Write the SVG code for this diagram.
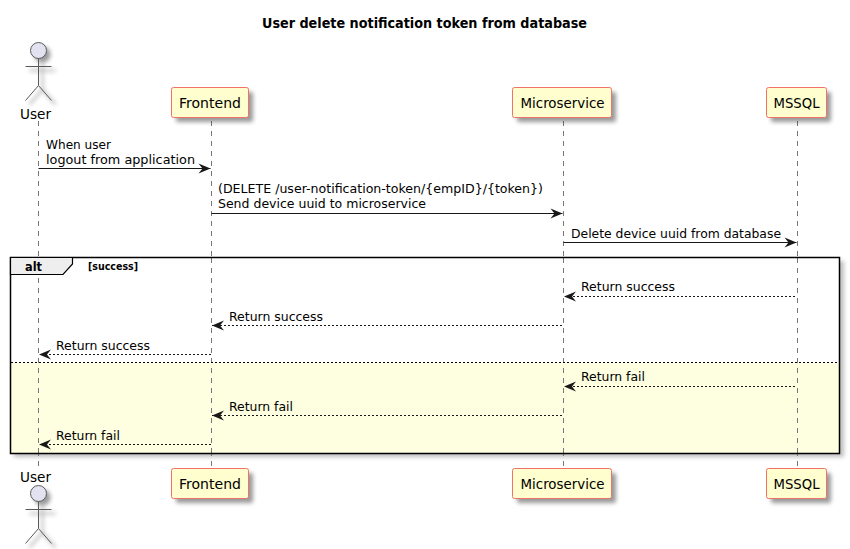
<svg xmlns="http://www.w3.org/2000/svg" width="850" height="549" viewBox="0 0 850 549">
<defs>
<filter id="sh" x="-30%" y="-30%" width="170%" height="170%"><feGaussianBlur stdDeviation="2"/></filter>
<marker id="ah" markerUnits="userSpaceOnUse" markerWidth="14" markerHeight="12" refX="13" refY="6" orient="auto-start-reverse"><path d="M1,1 L13,6 L1,11 L5,6 Z" fill="#181818"/></marker>
<g id="actor">
<g class="shadow" filter="url(#sh)" transform="translate(4,4)"><circle cx="0" cy="-8" r="8"/><path d="M0,0V27M-13,8H13M0,27L-13,42M0,27L13,42" fill="none" stroke="#000" stroke-opacity=".3" stroke-width="2"/></g>
<circle cx="0" cy="-8" r="8" fill="#e2e2f0" stroke="#5a5a5a"/>
<path d="M0,0V27M-13,8H13M0,27L-13,42M0,27L13,42" fill="none" stroke="#5a5a5a"/>
</g>
</defs>
<style>
text{font-family:"DejaVu Sans","Liberation Sans",sans-serif;fill:#000}
.m{font-size:12.5px}
.p{font-size:14px}
.box{fill:#fefece;stroke:#f0706c;stroke-width:1}
.shadow{fill:#000;fill-opacity:.4}
.life{stroke:#777;stroke-width:1;stroke-dasharray:5 5;fill:none}
.solid{stroke:#181818;stroke-width:1;fill:none;marker-end:url(#ah)}
.dash{stroke:#181818;stroke-width:1;stroke-dasharray:2 2;fill:none;marker-end:url(#ah)}
</style>
<rect width="850" height="549" fill="#fff"/>
<text id="title" x="424.5" y="28" text-anchor="middle" font-size="13.5" font-weight="700" textLength="325" lengthAdjust="spacingAndGlyphs">User delete notification token from database</text>

<g id="alt-shadow"><rect x="14" y="261" width="830" height="196" fill="#000" fill-opacity=".25" filter="url(#sh)"/></g>
<g id="lifelines">
<path class="life" d="M38.5,121V468M211.5,121V468M563.5,121V468M797.5,121V468"/>
</g>
<g id="alt">
<rect x="10.5" y="257.5" width="829" height="196" fill="#fff" stroke="none"/>
<rect x="11" y="363" width="828" height="90" fill="#fefee0"/>
<path class="life" d="M38.5,258V453M211.5,258V453M563.5,258V453M797.5,258V453"/>
<rect x="10.5" y="257.5" width="829" height="196" fill="none" stroke="#000" stroke-width="1.5"/>
<path d="M10.5,257.5H72.5V264L63,274.5H10.5Z" fill="#eee" stroke="#000" stroke-width="1.2"/>
<text x="25" y="271" font-size="12.5" font-weight="700" textLength="17" lengthAdjust="spacingAndGlyphs">alt</text>
<text x="88" y="270" font-size="10" font-weight="700" textLength="50" lengthAdjust="spacingAndGlyphs">[success]</text>
<line x1="11" y1="362.5" x2="839" y2="362.5" stroke="#000" stroke-width="1" stroke-dasharray="2 2"/>
</g>

<g id="connectors">
<line class="solid" x1="38.5" y1="168.5" x2="210.5" y2="168.5"/>
<line class="solid" x1="211.5" y1="213.5" x2="562.5" y2="213.5"/>
<line class="solid" x1="563.5" y1="242.5" x2="796.5" y2="242.5"/>
<line class="dash" x1="795" y1="296.5" x2="564" y2="296.5"/>
<line class="dash" x1="562" y1="325.5" x2="212" y2="325.5"/>
<line class="dash" x1="211" y1="354.5" x2="39" y2="354.5"/>
<line class="dash" x1="795" y1="386.5" x2="564" y2="386.5"/>
<line class="dash" x1="562" y1="415.5" x2="212" y2="415.5"/>
<line class="dash" x1="211" y1="444.5" x2="39" y2="444.5"/>
</g>
<g id="labels">
<text class="m" x="46" y="149" textLength="65" lengthAdjust="spacingAndGlyphs">When user</text>
<text class="m" x="46" y="164" textLength="149" lengthAdjust="spacingAndGlyphs">logout from application</text>
<text class="m" x="218" y="193" textLength="325" lengthAdjust="spacingAndGlyphs">(DELETE /user-notification-token/{empID}/{token})</text>
<text class="m" x="218" y="208" textLength="208" lengthAdjust="spacingAndGlyphs">Send device uuid to microservice</text>
<text class="m" x="571" y="238" textLength="210" lengthAdjust="spacingAndGlyphs">Delete device uuid from database</text>
<text class="m" x="581" y="291" textLength="94" lengthAdjust="spacingAndGlyphs">Return success</text>
<text class="m" x="229" y="321" textLength="94" lengthAdjust="spacingAndGlyphs">Return success</text>
<text class="m" x="56" y="350" textLength="94" lengthAdjust="spacingAndGlyphs">Return success</text>
<text class="m" x="581" y="381" textLength="64" lengthAdjust="spacingAndGlyphs">Return fail</text>
<text class="m" x="229" y="411" textLength="64" lengthAdjust="spacingAndGlyphs">Return fail</text>
<text class="m" x="56" y="440" textLength="64" lengthAdjust="spacingAndGlyphs">Return fail</text>
</g>

<g id="user-top"><use href="#actor" x="38.5" y="58.5"/><text class="p" x="20" y="119" textLength="31" lengthAdjust="spacingAndGlyphs">User</text></g>
<g id="frontend-top"><rect class="shadow" x="176" y="92" width="77" height="30" rx="2" filter="url(#sh)"/><rect class="box" x="171.5" y="87.5" width="77" height="30" rx="2"/><text class="p" x="179" y="108" textLength="62" lengthAdjust="spacingAndGlyphs">Frontend</text></g>
<g id="microservice-top"><rect class="shadow" x="517" y="92" width="99" height="30" rx="2" filter="url(#sh)"/><rect class="box" x="512.5" y="87.5" width="99" height="30" rx="2"/><text class="p" x="520.5" y="108" textLength="84" lengthAdjust="spacingAndGlyphs">Microservice</text></g>
<g id="mssql-top"><rect class="shadow" x="771" y="92" width="60" height="30" rx="2" filter="url(#sh)"/><rect class="box" x="766.5" y="87.5" width="60" height="30" rx="2"/><text class="p" x="773.5" y="108" textLength="46" lengthAdjust="spacingAndGlyphs">MSSQL</text></g>

<g id="user-bottom"><text class="p" x="20" y="482" textLength="31" lengthAdjust="spacingAndGlyphs">User</text><use href="#actor" x="38.5" y="501.5"/></g>
<g id="frontend-bottom"><rect class="shadow" x="176" y="473" width="77" height="30" rx="2" filter="url(#sh)"/><rect class="box" x="171.5" y="468.5" width="77" height="30" rx="2"/><text class="p" x="179" y="489" textLength="62" lengthAdjust="spacingAndGlyphs">Frontend</text></g>
<g id="microservice-bottom"><rect class="shadow" x="517" y="473" width="99" height="30" rx="2" filter="url(#sh)"/><rect class="box" x="512.5" y="468.5" width="99" height="30" rx="2"/><text class="p" x="520.5" y="489" textLength="84" lengthAdjust="spacingAndGlyphs">Microservice</text></g>
<g id="mssql-bottom"><rect class="shadow" x="771" y="473" width="60" height="30" rx="2" filter="url(#sh)"/><rect class="box" x="766.5" y="468.5" width="60" height="30" rx="2"/><text class="p" x="773.5" y="489" textLength="46" lengthAdjust="spacingAndGlyphs">MSSQL</text></g>
</svg>
